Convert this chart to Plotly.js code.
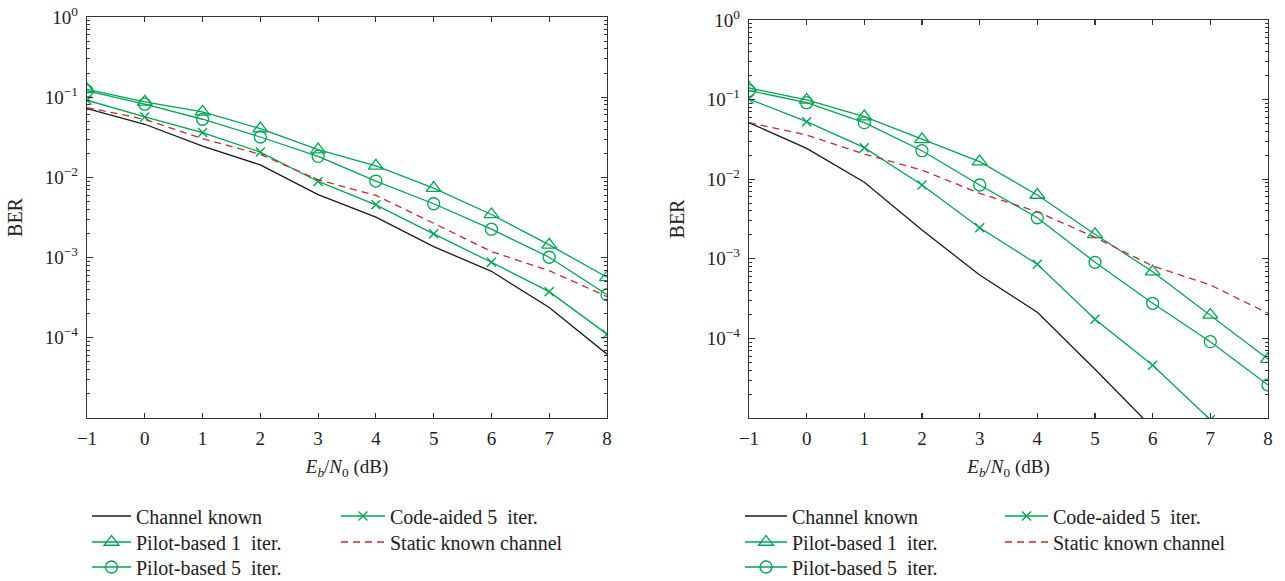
<!DOCTYPE html>
<html>
<head>
<meta charset="utf-8">
<script src="https://cdn.plot.ly/plotly-3.0.1.min.js"></script>
<style>html,body{margin:0;padding:0;background:#fff;}#chart{width:1285px;height:581px;}</style>
</head>
<body>
<div id="chart"></div>
<script>
// E_b/N_0 (dB)
const ebn0 = [-1, 0, 1, 2, 3, 4, 5, 6, 7, 8];

// Left panel
const leftChannelKnown = [0.072, 0.046, 0.0246, 0.0143, 0.0061, 0.0032, 0.00137, 0.000675, 0.000239, 0.0000625];
const leftPilot1 = [0.125, 0.0875, 0.0656, 0.0406, 0.0222, 0.0139, 0.00736, 0.00345, 0.00144, 0.000568];
const leftPilot5 = [0.12, 0.0818, 0.0531, 0.0319, 0.0183, 0.009, 0.00469, 0.00226, 0.00101, 0.000345];
const leftCodeAided = [0.0917, 0.0568, 0.0362, 0.0207, 0.0089, 0.00455, 0.00198, 0.000874, 0.000376, 0.000111];
const leftStatic = [0.0743, 0.053, 0.0304, 0.0194, 0.00935, 0.00596, 0.00268, 0.00119, 0.000688, 0.000326];

// Right panel
const rightChannelKnownX = [-1, 0, 1, 2, 3, 4, 5, 6];
const rightChannelKnown = [0.0513, 0.0244, 0.00914, 0.0023, 0.000626, 0.000213, 0.000041, 0.0000075];
const rightPilot1 = [0.14, 0.099, 0.061, 0.0317, 0.0166, 0.00633, 0.00203, 0.000689, 0.000197, 0.000055];
const rightPilot5 = [0.13, 0.0914, 0.0513, 0.0228, 0.00846, 0.00328, 0.000904, 0.000276, 0.000091, 0.000026];
const rightCodeAided = [0.1017, 0.0528, 0.0249, 0.00846, 0.00246, 0.000853, 0.000174, 0.000046, 0.0000095, 0.000002];
const rightStatic = [0.0513, 0.0359, 0.0207, 0.013, 0.00665, 0.0039, 0.00186, 0.000812, 0.000469, 0.000207];

const seriesNames = ["Channel known", "Pilot-based 1  iter.", "Pilot-based 5  iter.", "Code-aided 5  iter.", "Static known channel"];
const yTickVals = [1, 0.1, 0.01, 0.001, 0.0001];
const yTickText = ["10<sup>0</sup>", "10<sup>\u22121</sup>", "10<sup>\u22122</sup>", "10<sup>\u22123</sup>", "10<sup>\u22124</sup>"];

const GREEN = "rgb(0,166,81)";
const RED = "rgb(196,45,45)";
const BLACK = "#1a1a1a";
const FONT = "Liberation Serif, Times New Roman, serif";

const W = 1285, H = 581;
function px(x) { return x / W; }
function py(y) { return 1 - y / H; }

// each legend entry gets its own legend box so rows/columns can be placed like the original
function makeTraces(xa, ya, xs, ck, ckx, p1, p5, ca, st, legs) {
  return [
    {x: ckx, y: ck, xaxis: xa, yaxis: ya, mode: "lines", name: seriesNames[0], legend: legs[0],
     line: {color: BLACK, width: 1.3}},
    {x: xs, y: p1, xaxis: xa, yaxis: ya, mode: "lines+markers", name: seriesNames[1], legend: legs[1],
     line: {color: GREEN, width: 1.3}, marker: {symbol: "triangle-up-open", size: 13, color: GREEN, line: {color: GREEN, width: 1.3}}},
    {x: xs, y: p5, xaxis: xa, yaxis: ya, mode: "lines+markers", name: seriesNames[2], legend: legs[2],
     line: {color: GREEN, width: 1.3}, marker: {symbol: "circle-open", size: 12, color: GREEN, line: {color: GREEN, width: 1.3}}},
    {x: xs, y: ca, xaxis: xa, yaxis: ya, mode: "lines+markers", name: seriesNames[3], legend: legs[3],
     line: {color: GREEN, width: 1.3}, marker: {symbol: "x-thin-open", size: 9, color: GREEN, line: {color: GREEN, width: 1.4}}},
    {x: xs, y: st, xaxis: xa, yaxis: ya, mode: "lines", name: seriesNames[4], legend: legs[4],
     line: {color: RED, width: 1.3, dash: "7px,5px"}}
  ];
}

const traces = [].concat(
  makeTraces("x", "y", ebn0, leftChannelKnown, ebn0, leftPilot1, leftPilot5, leftCodeAided, leftStatic,
    ["legend", "legend2", "legend3", "legend4", "legend5"]),
  makeTraces("x2", "y2", ebn0, rightChannelKnown, rightChannelKnownX, rightPilot1, rightPilot5, rightCodeAided, rightStatic,
    ["legend6", "legend7", "legend8", "legend9", "legend10"])
);

const minorVals = [];
for (let e = -5; e < 0; e++) for (let m = 2; m <= 9; m++) minorVals.push(m * Math.pow(10, e));

function xAxis(domain, anchor) {
  return {
    domain: domain, anchor: anchor, range: [-1, 8], tickvals: ebn0, tickmode: "array",
    ticks: "inside", ticklen: 5, tickcolor: "#333", tickwidth: 1.2,
    showline: true, linecolor: "#333", linewidth: 1.3, mirror: "ticks",
    showgrid: false, zeroline: false, automargin: false,
    tickfont: {family: FONT, size: 19, color: "#222"}, ticklabelstandoff: 3,
    title: {text: "<i>E<sub>b</sub></i>/<i>N</i><sub>0</sub> (dB)", font: {family: FONT, size: 19, color: "#222"}, standoff: 11}
  };
}
function yAxis(domain, anchor) {
  return {
    domain: domain, anchor: anchor, type: "log", range: [-5, 0], tickmode: "array",
    tickvals: yTickVals, ticktext: yTickText,
    ticks: "inside", ticklen: 6, tickcolor: "#333", tickwidth: 1.2,
    minor: {tickmode: "array", tickvals: minorVals, ticks: "inside", ticklen: 3, tickcolor: "#333", tickwidth: 1, showgrid: false},
    showline: true, linecolor: "#333", linewidth: 1.3, mirror: "ticks",
    showgrid: false, zeroline: false, automargin: false,
    tickfont: {family: FONT, size: 19, color: "#222"}, ticklabelstandoff: 4,
    title: {text: "BER", font: {family: FONT, size: 20, color: "#222"}, standoff: 16}
  };
}

function legendAt(xPix, rowCenterPix, iw) {
  return {x: px(xPix), y: py(rowCenterPix - 19.5), xanchor: "left", yanchor: "top", orientation: "v",
    bgcolor: "rgba(0,0,0,0)", borderwidth: 0, itemwidth: iw, tracegroupgap: 0,
    font: {family: FONT, size: 20, color: "#222"}};
}

const layout = {
  width: W, height: H,
  margin: {l: 0, r: 0, t: 0, b: 0, autoexpand: false},
  paper_bgcolor: "#fff", plot_bgcolor: "#fff",
  showlegend: true,
  xaxis: xAxis([px(87), px(607)], "y"),
  yaxis: yAxis([py(418), py(17)], "x"),
  xaxis2: xAxis([px(749), px(1268)], "y2"),
  yaxis2: yAxis([py(418), py(20)], "x2"),
  legend: legendAt(87, 516, 39),
  legend2: legendAt(87, 542, 39),
  legend3: legendAt(87, 567, 39),
  legend4: legendAt(336, 516, 44),
  legend5: legendAt(336, 542, 44),
  legend6: legendAt(740, 516, 42),
  legend7: legendAt(740, 542, 42),
  legend8: legendAt(740, 567, 42),
  legend9: legendAt(1000, 516, 43),
  legend10: legendAt(1000, 542, 43)
};

Plotly.newPlot("chart", traces, layout, {displayModeBar: false, staticPlot: true});
</script>
</body>
</html>
